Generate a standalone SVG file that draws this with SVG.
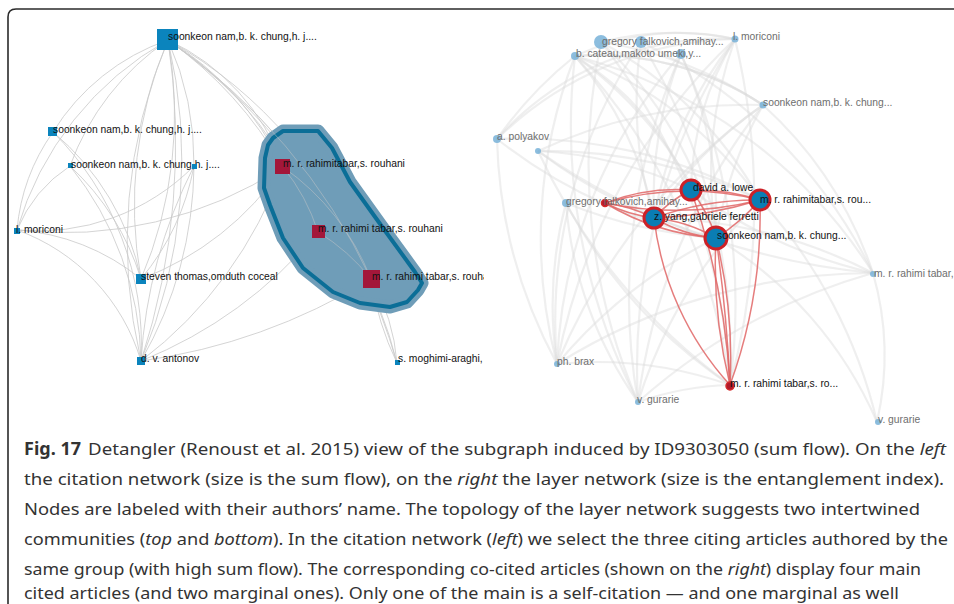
<svg xmlns="http://www.w3.org/2000/svg" width="954" height="604" viewBox="0 0 954 604">
  <defs>
    <style>
      .le { fill: none; stroke: #c9c9c9; stroke-width: 0.8; }
      .re { fill: none; stroke: #dcdcdc; stroke-width: 2.2; stroke-opacity: 0.45; }
      .rr { fill: none; stroke: #e06666; stroke-width: 1.5; stroke-opacity: 0.85; }
      .bsq { fill: #0b84bd; }
      .rsq { fill: #a3173a; }
      .fc { fill: #78b1d8; fill-opacity: 0.85; }
      .hc { fill: #0a7db4; stroke: #cc2127; stroke-width: 3; }
      .hr { fill: #b01a2a; stroke: #d42a2a; stroke-width: 1.5; }
      .lab { font-family: "Liberation Sans", Arial, sans-serif; font-size: 10.3px; fill: #111; }
      .flab { font-family: "Liberation Sans", Arial, sans-serif; font-size: 10.3px; fill: #6e6e6e; }
      .cap { font-family: "Noto Sans", "Open Sans", sans-serif; font-size: 17px; fill: #333; }
      .frame { fill: none; stroke: #2b2b2b; stroke-width: 1.6; }
    </style>
    <clipPath id="leftPanel">
      <rect x="9" y="10" width="475" height="410"/>
    </clipPath>
  </defs>

  <!-- figure frame -->
  <path class="frame" d="M 8 604 L 8 17 Q 8 9 16 9 L 954 9"/>

  <!-- left panel: citation network -->
  <g id="citation-network" clip-path="url(#leftPanel)">
    <g id="left-edges">
      <path class="le" d="M 168 40 A 220 220 0 0 0 53 132"/>
      <path class="le" d="M 168 40 A 260 260 0 0 0 70 166"/>
      <path class="le" d="M 168 40 A 320 320 0 0 0 17 230"/>
      <path class="le" d="M 168 40 A 420 420 0 0 0 141 279"/>
      <path class="le" d="M 168 40 A 420 420 0 0 1 141 279"/>
      <path class="le" d="M 168 40 A 520 520 0 0 0 141 361"/>
      <path class="le" d="M 168 40 A 520 520 0 0 1 141 361"/>
      <path class="le" d="M 168 40 A 700 700 0 0 1 141 361"/>
      <path class="le" d="M 168 40 A 300 300 0 0 1 194 166"/>
      <path class="le" d="M 168 40 A 220 220 0 0 1 283 167"/>
      <path class="le" d="M 168 40 A 300 300 0 0 1 283 167"/>
      <path class="le" d="M 168 40 A 400 400 0 0 1 283 167"/>
      <path class="le" d="M 168 40 A 380 380 0 0 1 318 232"/>
      <path class="le" d="M 168 40 A 450 450 0 0 1 371 279"/>
      <path class="le" d="M 168 40 A 600 600 0 0 1 371 279"/>
      <path class="le" d="M 168 40 A 600 600 0 0 1 397 363"/>
      <path class="le" d="M 53 132 A 300 300 0 0 1 141 361"/>
      <path class="le" d="M 53 132 A 260 260 0 0 1 141 279"/>
      <path class="le" d="M 53 132 A 200 200 0 0 0 17 230"/>
      <path class="le" d="M 70 166 A 140 140 0 0 0 17 230"/>
      <path class="le" d="M 70 166 A 320 320 0 0 1 141 361"/>
      <path class="le" d="M 70 166 A 260 260 0 0 1 141 279"/>
      <path class="le" d="M 194 166 A 220 220 0 0 1 17 230"/>
      <path class="le" d="M 194 166 A 400 400 0 0 1 141 361"/>
      <path class="le" d="M 194 166 A 250 250 0 0 1 141 279"/>
      <path class="le" d="M 194 166 A 500 500 0 0 0 141 361"/>
      <path class="le" d="M 17 230 A 200 200 0 0 1 141 361"/>
      <path class="le" d="M 17 230 A 220 220 0 0 1 141 279"/>
      <path class="le" d="M 17 230 A 400 400 0 0 0 283 167"/>
      <path class="le" d="M 141 279 A 300 300 0 0 0 283 167"/>
      <path class="le" d="M 141 361 A 420 420 0 0 0 283 167"/>
      <path class="le" d="M 141 361 A 450 450 0 0 0 318 232"/>
      <path class="le" d="M 141 361 A 600 600 0 0 0 371 279"/>
      <path class="le" d="M 283 167 A 200 200 0 0 1 318 232"/>
      <path class="le" d="M 283 167 A 250 250 0 0 1 371 279"/>
      <path class="le" d="M 283 167 A 350 350 0 0 0 371 279"/>
      <path class="le" d="M 318 232 A 200 200 0 0 1 371 279"/>
      <path class="le" d="M 283 167 A 400 400 0 0 1 397 363"/>
      <path class="le" d="M 371 279 A 200 200 0 0 1 397 363"/>
      <path class="le" d="M 371 279 A 300 300 0 0 0 397 363"/>
    </g>

    <!-- selected group hull -->
    <g id="selection-hull">
      <path d="M 273 138 L 283 131 L 318 131 L 332 148 L 350 182 L 383 228 L 415 272 L 422 283 L 418 290 L 407 302 L 390 307 L 360 303 L 333 292 L 303 268 L 283 238 L 270 205 L 264 188 L 265 158 L 268 145 Z"
            fill="#6f9db8" stroke="#6f9db8" stroke-width="13" stroke-linejoin="round"/>
      <path d="M 273 138 L 283 131 L 318 131 L 332 148 L 350 182 L 383 228 L 415 272 L 422 283 L 418 290 L 407 302 L 390 307 L 360 303 L 333 292 L 303 268 L 283 238 L 270 205 L 264 188 L 265 158 L 268 145 Z"
            fill="none" stroke="#0b6e97" stroke-width="4" stroke-linejoin="round"/>
      <path class="le" d="M 283 167 A 200 200 0 0 1 318 232" stroke-opacity="0.6"/>
      <path class="le" d="M 283 167 A 250 250 0 0 1 371 279" stroke-opacity="0.6"/>
      <path class="le" d="M 318 232 A 200 200 0 0 1 371 279" stroke-opacity="0.6"/>
      <path class="le" d="M 168 40 A 600 600 0 0 1 371 279" stroke-opacity="0.6"/>
    </g>

    <g id="n-soonkeon-top">
      <rect class="bsq" x="157" y="29" width="21" height="21"/>
      <text class="lab" x="168" y="40">soonkeon nam,b. k. chung,h. j....</text>
    </g>
    <g id="n-soonkeon-2">
      <rect class="bsq" x="48" y="127" width="9" height="9"/>
      <text class="lab" x="53" y="133">soonkeon nam,b. k. chung,h. j....</text>
    </g>
    <g id="n-soonkeon-3">
      <rect class="bsq" x="68" y="163" width="5" height="5"/>
      <text class="lab" x="71" y="168">soonkeon nam,b. k. chung,h. j....</text>
    </g>
    <g id="n-small-1">
      <rect class="bsq" x="192" y="164" width="5" height="5"/>
    </g>
    <g id="n-moriconi-left">
      <rect class="bsq" x="14" y="228" width="6" height="6"/>
      <text class="lab" x="16" y="233">l. moriconi</text>
    </g>
    <g id="n-thomas">
      <rect class="bsq" x="136" y="274" width="10" height="10"/>
      <text class="lab" x="141" y="280">steven thomas,omduth coceal</text>
    </g>
    <g id="n-antonov">
      <rect class="bsq" x="137" y="357" width="8" height="8"/>
      <text class="lab" x="141" y="362">d. v. antonov</text>
    </g>
    <g id="n-moghimi">
      <rect class="bsq" x="395" y="360" width="5" height="5"/>
      <text class="lab" x="398" y="362">s. moghimi-araghi,</text>
    </g>
    <g id="n-rahimitabar-left">
      <rect class="rsq" x="275" y="159" width="15" height="15"/>
      <text class="lab" x="283" y="167">m. r. rahimitabar,s. rouhani</text>
    </g>
    <g id="n-rahimi-tabar-left">
      <rect class="rsq" x="312" y="225" width="13" height="13"/>
      <text class="lab" x="318" y="232">m. r. rahimi tabar,s. rouhani</text>
    </g>
    <g id="n-rahimi-tabar-big">
      <rect class="rsq" x="363" y="270" width="17" height="18"/>
      <text class="lab" x="372" y="280">m. r. rahimi tabar,s. rouhani</text>
    </g>
  </g>

  <!-- right panel: layer network -->
  <g id="layer-network">
    <g id="right-edges">
      <path class="re" d="M 575 56 A 400 400 0 0 1 716 238"/>
      <path class="re" d="M 575 56 A 350 350 0 0 1 654 218"/>
      <path class="re" d="M 575 56 A 300 300 0 0 1 691 190"/>
      <path class="re" d="M 575 56 A 400 400 0 0 1 760 200"/>
      <path class="re" d="M 575 56 A 600 600 0 0 1 730 385"/>
      <path class="re" d="M 575 56 A 600 600 0 0 0 638 402"/>
      <path class="re" d="M 575 56 A 500 500 0 0 0 557 364"/>
      <path class="re" d="M 575 56 A 500 500 0 0 1 873 273"/>
      <path class="re" d="M 601 42 A 400 400 0 0 1 716 238"/>
      <path class="re" d="M 601 42 A 600 600 0 0 1 730 385"/>
      <path class="re" d="M 601 42 A 400 400 0 0 1 760 200"/>
      <path class="re" d="M 601 42 A 600 600 0 0 0 638 402"/>
      <path class="re" d="M 641 42 A 400 400 0 0 0 654 218"/>
      <path class="re" d="M 641 42 A 500 500 0 0 0 557 364"/>
      <path class="re" d="M 641 42 A 600 600 0 0 1 730 385"/>
      <path class="re" d="M 641 42 A 500 500 0 0 1 873 273"/>
      <path class="re" d="M 681 54 A 400 400 0 0 0 654 218"/>
      <path class="re" d="M 681 54 A 500 500 0 0 0 557 364"/>
      <path class="re" d="M 681 54 A 600 600 0 0 0 638 402"/>
      <path class="re" d="M 681 54 A 400 400 0 0 1 716 238"/>
      <path class="re" d="M 681 54 A 600 600 0 0 1 730 385"/>
      <path class="re" d="M 735 39 A 400 400 0 0 0 654 218"/>
      <path class="re" d="M 735 39 A 400 400 0 0 0 716 238"/>
      <path class="re" d="M 735 39 A 300 300 0 0 0 691 190"/>
      <path class="re" d="M 735 39 A 600 600 0 0 0 557 364"/>
      <path class="re" d="M 735 39 A 600 600 0 0 0 638 402"/>
      <path class="re" d="M 735 39 A 700 700 0 0 1 730 385"/>
      <path class="re" d="M 735 39 A 250 250 0 0 0 575 56"/>
      <path class="re" d="M 735 39 A 300 300 0 0 0 497 139"/>
      <path class="re" d="M 763 105 A 400 400 0 0 0 654 218"/>
      <path class="re" d="M 763 105 A 400 400 0 0 0 716 238"/>
      <path class="re" d="M 763 105 A 600 600 0 0 0 557 364"/>
      <path class="re" d="M 763 105 A 600 600 0 0 0 638 402"/>
      <path class="re" d="M 763 105 A 400 400 0 0 1 873 273"/>
      <path class="re" d="M 763 105 A 300 300 0 0 0 575 56"/>
      <path class="re" d="M 497 139 A 400 400 0 0 1 575 56"/>
      <path class="re" d="M 497 139 A 500 500 0 0 0 557 364"/>
      <path class="re" d="M 497 139 A 500 500 0 0 0 716 238"/>
      <path class="re" d="M 497 139 A 500 500 0 0 1 760 200"/>
      <path class="re" d="M 538 151 A 500 500 0 0 0 716 238"/>
      <path class="re" d="M 538 151 A 500 500 0 0 1 760 200"/>
      <path class="re" d="M 538 151 A 400 400 0 0 1 691 190"/>
      <path class="re" d="M 538 151 A 600 600 0 0 0 730 385"/>
      <path class="re" d="M 538 151 A 700 700 0 0 0 873 273"/>
      <path class="re" d="M 538 151 A 500 500 0 0 1 763 105"/>
      <path class="re" d="M 566 203 A 400 400 0 0 0 557 364"/>
      <path class="re" d="M 566 203 A 400 400 0 0 0 638 402"/>
      <path class="re" d="M 566 203 A 500 500 0 0 0 730 385"/>
      <path class="re" d="M 566 203 A 500 500 0 0 0 716 238"/>
      <path class="re" d="M 873 273 A 600 600 0 0 0 557 364"/>
      <path class="re" d="M 873 273 A 600 600 0 0 0 638 402"/>
      <path class="re" d="M 873 273 A 500 500 0 0 0 654 218"/>
      <path class="re" d="M 873 273 A 500 500 0 0 1 691 190"/>
      <path class="re" d="M 873 273 A 300 300 0 0 1 877 422"/>
      <path class="re" d="M 877 422 A 400 400 0 0 0 716 238"/>
      <path class="re" d="M 877 422 A 500 500 0 0 0 760 200"/>
      <path class="re" d="M 557 364 A 400 400 0 0 1 730 385"/>
      <path class="re" d="M 638 402 A 300 300 0 0 1 730 385"/>
      <path class="re" d="M 557 364 A 500 500 0 0 1 716 238"/>
      <path class="re" d="M 638 402 A 500 500 0 0 1 760 200"/>
      <path class="re" d="M 601 42 A 300 300 0 0 1 735 39"/>
      <path class="re" d="M 601 42 A 400 400 0 0 1 763 105"/>
      <path class="re" d="M 575 56 A 300 300 0 0 1 763 105"/>
      <path class="re" d="M 497 139 A 350 350 0 0 1 735 39"/>
    </g>

    <g id="red-edges">
      <path class="rr" d="M 605 203 A 150 150 0 0 1 654 218"/>
      <path class="rr" d="M 605 203 A 150 150 0 0 0 654 218"/>
      <path class="rr" d="M 605 203 A 200 200 0 0 1 691 190"/>
      <path class="rr" d="M 605 203 A 250 250 0 0 0 716 238"/>
      <path class="rr" d="M 605 203 A 300 300 0 0 1 760 200"/>
      <path class="rr" d="M 605 203 A 350 350 0 0 0 760 200"/>
      <path class="rr" d="M 654 218 A 120 120 0 0 1 691 190"/>
      <path class="rr" d="M 654 218 A 300 300 0 0 1 760 200"/>
      <path class="rr" d="M 654 218 A 400 400 0 0 0 760 200"/>
      <path class="rr" d="M 654 218 A 150 150 0 0 1 716 238"/>
      <path class="rr" d="M 654 218 A 150 150 0 0 0 716 238"/>
      <path class="rr" d="M 691 190 A 200 200 0 0 1 760 200"/>
      <path class="rr" d="M 691 190 A 150 150 0 0 1 716 238"/>
      <path class="rr" d="M 760 200 A 200 200 0 0 1 716 238"/>
      <path class="rr" d="M 654 218 A 300 300 0 0 0 730 385"/>
      <path class="rr" d="M 716 238 A 500 500 0 0 1 730 385"/>
      <path class="rr" d="M 716 238 A 500 500 0 0 0 730 385"/>
      <path class="rr" d="M 716 238 A 1500 1500 0 0 1 730 385"/>
      <path class="rr" d="M 760 200 A 500 500 0 0 1 730 385"/>
      <path class="rr" d="M 691 190 A 700 700 0 0 1 730 385"/>
    </g>

    <g id="r-gregory-top">
      <circle class="fc" cx="601" cy="42" r="7"/>
      <circle class="fc" cx="641" cy="42" r="6"/>
      <text class="flab" x="602" y="45">gregory falkovich,amihay...</text>
    </g>
    <g id="r-cateau">
      <circle class="fc" cx="575" cy="56" r="4"/>
      <circle class="fc" cx="681" cy="54" r="5"/>
      <text class="flab" x="576" y="57">b. cateau,makoto umeki,y...</text>
    </g>
    <g id="r-moriconi">
      <circle class="fc" cx="735" cy="39" r="3.5"/>
      <text class="flab" x="733" y="40">l. moriconi</text>
    </g>
    <g id="r-soonkeon-faded">
      <circle class="fc" cx="763" cy="105" r="3.5"/>
      <text class="flab" x="763" y="106">soonkeon nam,b. k. chung...</text>
    </g>
    <g id="r-polyakov">
      <circle class="fc" cx="497" cy="139" r="4"/>
      <text class="flab" x="497" y="140">a. polyakov</text>
    </g>
    <g id="r-small">
      <circle class="fc" cx="538" cy="151" r="3"/>
    </g>
    <g id="r-gregory-mid">
      <circle class="fc" cx="566" cy="203" r="4"/>
      <circle class="hr" cx="605" cy="203" r="3.5"/>
      <text class="flab" x="566" y="205">gregory falkovich,amihay...</text>
    </g>
    <g id="r-rahimi-tabar-far">
      <circle class="fc" cx="873" cy="274" r="3"/>
      <text class="flab" x="874" y="277">m. r. rahimi tabar,</text>
    </g>
    <g id="r-brax">
      <circle class="fc" cx="557" cy="364" r="3"/>
      <text class="flab" x="557" y="365">ph. brax</text>
    </g>
    <g id="r-gurarie-1">
      <circle class="fc" cx="638" cy="402" r="3"/>
      <text class="flab" x="637" y="403">v. gurarie</text>
    </g>
    <g id="r-gurarie-2">
      <circle class="fc" cx="878" cy="422" r="3"/>
      <text class="flab" x="878" y="423">v. gurarie</text>
    </g>
    <g id="r-rahimi-tabar-low">
      <circle class="hr" cx="730" cy="386" r="4"/>
      <text class="lab" x="730" y="387">m. r. rahimi tabar,s. ro...</text>
    </g>
    <g id="r-lowe">
      <circle class="hc" cx="691" cy="190" r="10"/>
      <text class="lab" x="693" y="191">david a. lowe</text>
    </g>
    <g id="r-rahimitabar">
      <circle class="hc" cx="760" cy="200" r="10"/>
      <text class="lab" x="760" y="203">m. r. rahimitabar,s. rou...</text>
    </g>
    <g id="r-yang">
      <circle class="hc" cx="654" cy="218" r="10"/>
      <text class="lab" x="654" y="220">z. yang,gabriele ferretti</text>
    </g>
    <g id="r-soonkeon">
      <circle class="hc" cx="716" cy="238" r="11"/>
      <text class="lab" x="717" y="239">soonkeon nam,b. k. chung...</text>
    </g>
  </g>

  <!-- caption -->
  <g id="caption">
    <text class="cap" x="24" y="455" font-weight="bold" textLength="57" lengthAdjust="spacingAndGlyphs">Fig. 17</text>
    <text class="cap" x="88" y="455" textLength="858" lengthAdjust="spacingAndGlyphs">Detangler (Renoust et al. 2015) view of the subgraph induced by ID9303050 (sum flow). On the <tspan font-style="italic">left</tspan></text>
    <text class="cap" x="24" y="485" textLength="920" lengthAdjust="spacingAndGlyphs">the citation network (size is the sum flow), on the <tspan font-style="italic">right</tspan> the layer network (size is the entanglement index).</text>
    <text class="cap" x="24" y="515" textLength="896" lengthAdjust="spacingAndGlyphs">Nodes are labeled with their authors’ name. The topology of the layer network suggests two intertwined</text>
    <text class="cap" x="24" y="545" textLength="924" lengthAdjust="spacingAndGlyphs">communities (<tspan font-style="italic">top</tspan> and <tspan font-style="italic">bottom</tspan>). In the citation network (<tspan font-style="italic">left</tspan>) we select the three citing articles authored by the</text>
    <text class="cap" x="24" y="575" textLength="897" lengthAdjust="spacingAndGlyphs">same group (with high sum flow). The corresponding co-cited articles (shown on the <tspan font-style="italic">right</tspan>) display four main</text>
    <text class="cap" x="24" y="599" textLength="875" lengthAdjust="spacingAndGlyphs">cited articles (and two marginal ones). Only one of the main is a self-citation — and one marginal as well</text>
  </g>
</svg>
